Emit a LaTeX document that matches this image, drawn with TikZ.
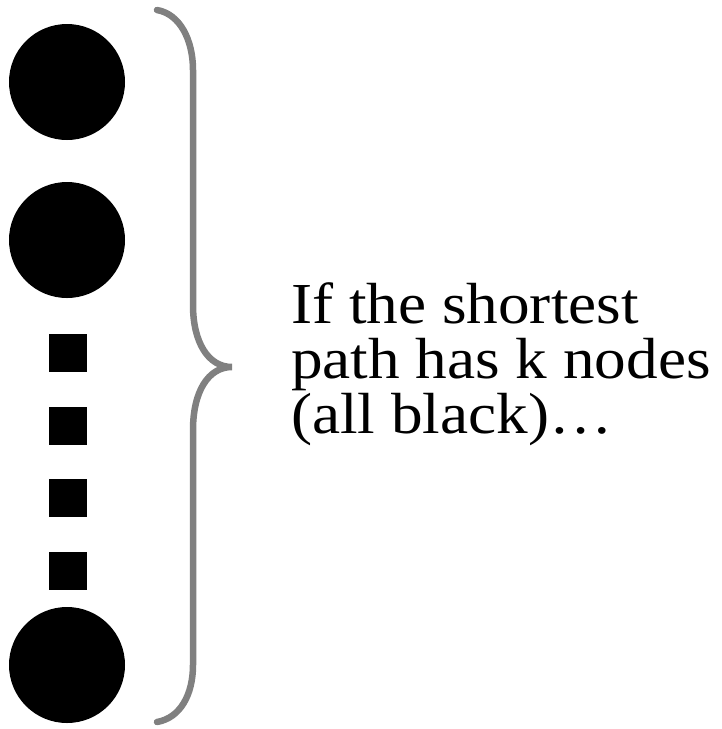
\documentclass[tikz,border=0pt]{standalone}
\usepackage{fontspec}
\setmainfont{Liberation Serif}[FakeStretch=1.09]
\definecolor{bracegray}{HTML}{808080}
\begin{document}
\begin{tikzpicture}[x=1pt,y=-1pt,
  dot/.style={circle,fill=black,inner sep=0pt,minimum size=116pt},
  sq/.style={rectangle,fill=black,inner sep=0pt,minimum size=38pt},
  bracestyle/.style={draw=bracegray,line width=6.5pt,line cap=round,line join=miter}]
\useasboundingbox (0,0) rectangle (722,729);
\node[dot] (c1) at (67,82) {};
\node[dot] (c2) at (67,240) {};
\node[dot] (c3) at (67,665) {};
\node[sq] (s1) at (68,353) {};
\node[sq] (s2) at (68,426) {};
\node[sq] (s3) at (68,498) {};
\node[sq] (s4) at (68,571) {};
\coordinate (btop) at (157,10);
\coordinate (btip) at (232,367);
\coordinate (bbot) at (157,722);
\draw[bracestyle] (btop) .. controls (180,14) and (193,40) .. (193,70)
  -- (193,305) .. controls (193,342) and (208,367) .. (btip)
  .. controls (208,367) and (193,392) .. (193,430)
  -- (193,665) .. controls (193,695) and (180,718) .. (bbot);
\node[anchor=west,align=left,font=\fontsize{58}{55}\selectfont,inner sep=0pt] (txt) at (291,364)
  {If the shortest\\path has k nodes\\(all black)\dots};
\end{tikzpicture}
\end{document}
